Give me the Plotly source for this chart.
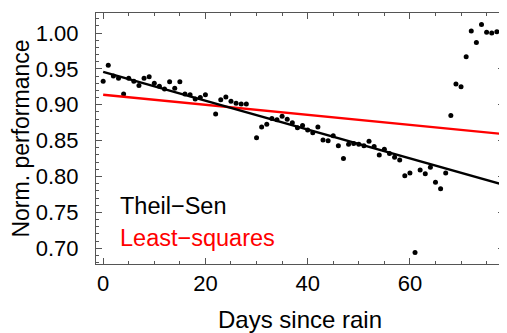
import plotly.graph_objects as go

days = [0, 1, 2, 3, 4, 5, 6, 7, 8, 9, 10, 11, 12, 13, 14, 15, 16, 17, 18, 19, 20,
        22, 23, 24, 25, 26, 27, 28, 30, 31, 32, 33, 34, 35, 36, 37, 38, 39, 40,
        41, 42, 43, 44, 45, 46, 47, 48, 49, 50, 51, 52, 53, 54, 55, 56, 57, 58,
        59, 60, 61, 62, 63, 64, 65, 66, 67, 68, 69, 70, 71, 72, 73, 74, 75, 76, 77]
perf = [0.933, 0.955, 0.940, 0.937, 0.915, 0.937, 0.933, 0.927, 0.937, 0.939, 0.930,
        0.926, 0.922, 0.932, 0.923, 0.932, 0.915, 0.914, 0.908, 0.910, 0.914,
        0.887, 0.907, 0.911, 0.905, 0.902, 0.901, 0.901, 0.854, 0.869, 0.873,
        0.881, 0.879, 0.884, 0.880, 0.875, 0.868, 0.871, 0.865, 0.861, 0.869,
        0.851, 0.850, 0.857, 0.843, 0.825, 0.845, 0.846, 0.845, 0.843, 0.849,
        0.842, 0.830, 0.838, 0.832, 0.827, 0.823, 0.801, 0.805, 0.694, 0.809,
        0.804, 0.813, 0.792, 0.783, 0.805, 0.885, 0.929, 0.925, 0.967, 1.003,
        0.987, 1.012, 1.001, 1.000, 1.002]

# fitted line coefficients (intercept, slope)
theil_sen = (0.946, -0.00201)
least_squares = (0.914, -0.00070)
fit_x = [0, 80]

font = "Liberation Sans, Arial, sans-serif"

fig = go.Figure()
fig.add_trace(go.Scatter(x=days, y=perf, mode="markers",
                         marker=dict(color="black", size=5), showlegend=False))
fig.add_trace(go.Scatter(x=fit_x, y=[least_squares[0] + least_squares[1] * x for x in fit_x],
                         mode="lines", line=dict(color="#ff0000", width=2.4), showlegend=False))
fig.add_trace(go.Scatter(x=fit_x, y=[theil_sen[0] + theil_sen[1] * x for x in fit_x],
                         mode="lines", line=dict(color="black", width=2.4), showlegend=False))

axis_common = dict(showline=True, linecolor="#555555", linewidth=1, mirror="ticks",
                   ticks="inside", tickcolor="#555555", ticklen=6, tickwidth=1,
                   showgrid=False, zeroline=False, automargin=False,
                   tickfont=dict(family=font, size=22, color="black"))

fig.update_xaxes(range=[-1.4, 78.4], tick0=0, dtick=20,
                 minor=dict(dtick=5, ticks="inside", ticklen=3, tickcolor="#555555"),
                 title=dict(text="Days since rain", font=dict(family=font, size=24, color="black"),
                            standoff=17),
                 ticklabelstandoff=0,
                 **axis_common)
fig.update_yaxes(range=[0.678, 1.028], tick0=0.7, dtick=0.05, tickformat=".2f",
                 minor=dict(dtick=0.01, ticks="inside", ticklen=3, tickcolor="#555555"),
                 title=dict(text="Norm. performance", font=dict(family=font, size=23, color="black"),
                            standoff=1),
                 ticklabelstandoff=12,
                 **axis_common)

fig.add_annotation(text="Theil−Sen", xref="paper", yref="paper", x=0.054, y=0.231,
                   xanchor="left", yanchor="middle", showarrow=False,
                   font=dict(family=font, size=23.5, color="black"))
fig.add_annotation(text="Least−squares", xref="paper", yref="paper", x=0.054, y=0.104,
                   xanchor="left", yanchor="middle", showarrow=False,
                   font=dict(family=font, size=23.5, color="#ff0000"))

# page body has an 8px margin, so the figure is offset by 8px
fig.update_layout(width=499, height=325, margin=dict(l=88, r=3, t=5, b=69),
                  plot_bgcolor="white", paper_bgcolor="white",
                  font=dict(family=font))
fig.write_html("out.html")
